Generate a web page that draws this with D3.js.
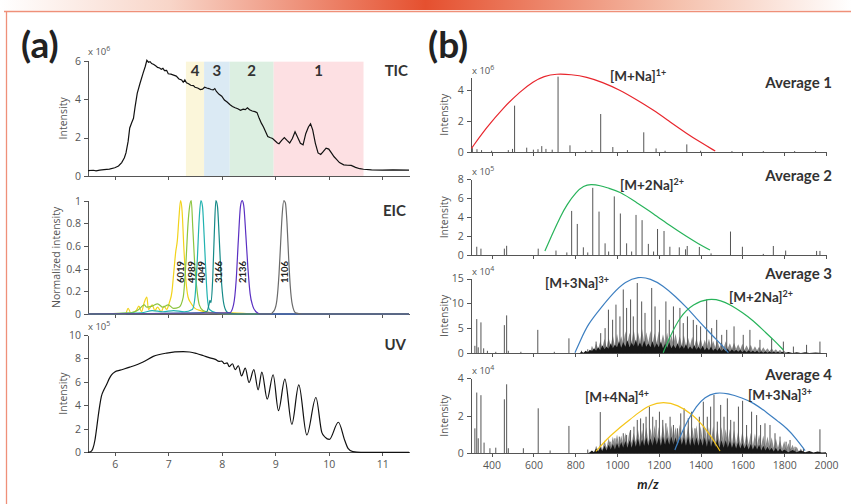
<!DOCTYPE html>
<html>
<head>
<meta charset="utf-8">
<script src="https://cdn.jsdelivr.net/npm/d3@7"></script>
<style>
  body { margin: 0; background: #fff; }
  svg { display: block; font-family: Lato, "Open Sans", sans-serif; }
  .axis path, .axis line { stroke: #555; shape-rendering: crispEdges; }
  .axis text { fill: #555; font-size: 10.5px; font-family: "Open Sans", sans-serif; }
  .ylab { fill: #555; font-size: 10.5px; font-family: "Open Sans", sans-serif; }
  .hdr { fill: #333; font-weight: 700; font-size: 15px; }
  .ion { fill: #333; font-weight: 700; font-size: 13.5px; }
</style>
</head>
<body>
<svg id="chart" width="851" height="504"></svg>
<script>
// ---- panel (a) data: retention time (min) vs intensity ----
var ticTrace = [[5.5,0.28],[5.6,0.3],[5.65,0.27],[5.72,0.31],[5.8,0.33],[5.9,0.36],[6.0,0.43],[6.07,0.52],[6.13,0.7],[6.18,0.95],[6.21,1.2],[6.25,1.8],[6.28,2.5],[6.32,2.8],[6.35,3.0],[6.38,3.6],[6.42,4.3],[6.47,4.8],[6.53,5.35],[6.57,5.7],[6.6,6.02],[6.63,5.92],[6.66,5.95],[6.69,5.85],[6.73,5.8],[6.77,5.72],[6.8,5.65],[6.84,5.62],[6.87,5.55],[6.9,5.6],[6.93,5.48],[6.97,5.5],[7.0,5.32],[7.05,5.3],[7.1,5.25],[7.15,5.2],[7.2,5.05],[7.25,5.0],[7.28,4.88],[7.31,5.0],[7.34,4.85],[7.38,4.8],[7.42,4.72],[7.47,4.7],[7.5,4.62],[7.55,4.58],[7.6,4.5],[7.64,4.52],[7.68,4.62],[7.72,4.58],[7.76,4.55],[7.8,4.5],[7.84,4.48],[7.87,4.55],[7.9,4.4],[7.95,4.25],[8.0,4.15],[8.05,3.95],[8.1,3.85],[8.15,3.72],[8.2,3.62],[8.25,3.55],[8.3,3.5],[8.35,3.42],[8.4,3.48],[8.44,3.45],[8.48,3.55],[8.52,3.45],[8.57,3.38],[8.62,3.35],[8.66,3.3],[8.7,3.0],[8.74,2.75],[8.78,2.55],[8.82,2.3],[8.86,2.05],[8.9,2.0],[8.95,1.95],[8.99,1.85],[9.04,1.72],[9.07,1.68],[9.12,1.85],[9.17,2.0],[9.22,1.85],[9.27,1.72],[9.32,1.95],[9.37,2.3],[9.42,2.0],[9.47,1.7],[9.52,1.62],[9.57,2.2],[9.62,2.55],[9.66,2.72],[9.7,2.4],[9.75,1.7],[9.8,1.2],[9.85,1.12],[9.9,1.28],[9.95,1.45],[10.0,1.4],[10.05,1.2],[10.1,1.0],[10.15,0.85],[10.2,0.7],[10.28,0.58],[10.35,0.56],[10.42,0.55],[10.5,0.45],[10.58,0.38],[10.65,0.35],[10.8,0.32],[11.0,0.31],[11.2,0.32],[11.5,0.31]];

var bandLabels = ["4", "3", "2", "1"];
var bandStart = [7.33, 7.67, 8.15, 8.97];
var bandEnd = [7.67, 8.15, 8.97, 10.65];

var eicLabels = ["6019", "4989", "4049", "3166", "2136", "1106"];
var eicPeakTime = [7.22, 7.44, 7.62, 7.93, 8.39, 9.18];
var eicTraces = [
  [[5.5,0],[6.2,0],[6.25,0.05],[6.3,0.01],[6.4,0.03],[6.45,0.07],[6.5,0.02],[6.55,0.1],[6.6,0.15],[6.63,0.04],[6.7,0.08],[6.75,0.03],[6.8,0.06],[6.87,0.02],[6.92,0.07],[6.97,0.04],[7.02,0.1],[7.07,0.2],[7.1,0.35],[7.14,0.55],[7.17,0.65],[7.2,0.85],[7.23,1.0],[7.26,0.9],[7.29,0.6],[7.33,0.3],[7.37,0.15],[7.42,0.1],[7.5,0.05],[7.6,0.03],[7.8,0.01],[8.2,0.01],[8.6,0],[11.5,0]],
  [[5.5,0],[6.3,0.01],[6.45,0.04],[6.55,0.08],[6.6,0.06],[6.7,0.07],[6.8,0.09],[6.9,0.06],[7.0,0.08],[7.1,0.05],[7.2,0.06],[7.28,0.15],[7.33,0.45],[7.37,0.8],[7.4,0.95],[7.43,1.0],[7.46,0.75],[7.5,0.4],[7.54,0.2],[7.58,0.08],[7.65,0.03],[7.8,0.01],[8.1,0],[11.5,0]],
  [[5.5,0],[6.5,0.01],[6.7,0.03],[6.9,0.02],[7.1,0.03],[7.3,0.02],[7.45,0.04],[7.5,0.15],[7.54,0.45],[7.58,0.85],[7.61,1.0],[7.64,0.95],[7.67,0.7],[7.7,0.4],[7.73,0.15],[7.77,0.04],[7.9,0.01],[8.2,0],[11.5,0]],
  [[5.5,0],[7.6,0.01],[7.72,0.02],[7.76,0.08],[7.78,0.12],[7.8,0.1],[7.83,0.3],[7.86,0.7],[7.89,1.0],[7.92,0.95],[7.95,0.7],[7.98,0.4],[8.02,0.15],[8.06,0.05],[8.12,0.01],[8.3,0],[11.5,0]],
  [[5.5,0],[8.15,0.01],[8.22,0.08],[8.27,0.3],[8.31,0.65],[8.35,0.95],[8.38,1.0],[8.41,0.96],[8.45,0.7],[8.49,0.4],[8.53,0.18],[8.58,0.07],[8.64,0.02],[8.72,0],[11.5,0]],
  [[5.5,0],[8.9,0],[8.98,0.03],[9.03,0.12],[9.07,0.35],[9.1,0.62],[9.13,0.88],[9.16,1.0],[9.19,0.98],[9.22,0.8],[9.25,0.5],[9.28,0.25],[9.32,0.08],[9.38,0.01],[9.5,0],[11.5,0]]
];

var uvTrace = [[5.5,0],[5.55,0.05],[5.59,0.3],[5.63,1.05],[5.66,2.0],[5.69,3.05],[5.72,4.0],[5.75,4.76],[5.8,5.35],[5.85,5.8],[5.9,6.3],[5.94,6.6],[6.0,6.85],[6.1,7.0],[6.28,7.26],[6.53,7.7],[6.72,8.18],[6.97,8.46],[7.28,8.58],[7.4,8.55],[7.53,8.42],[7.65,8.25],[7.78,8.05],[7.88,7.92],[7.95,7.75],[8.0,7.78],[8.05,7.55],[8.1,7.62],[8.14,7.3],[8.2,7.55],[8.25,7.05],[8.31,7.38],[8.37,6.52],[8.44,7.18],[8.51,5.95],[8.6,7.04],[8.68,5.33],[8.75,6.84],[8.85,4.53],[8.96,6.61],[9.06,3.56],[9.18,6.24],[9.31,2.39],[9.44,5.75],[9.59,1.48],[9.76,4.67],[9.87,1.7],[9.93,1.3],[10.01,1.1],[10.18,2.56],[10.3,1.0],[10.36,0.34],[10.45,0.06],[10.6,0],[11.5,0]];

// ---- panel (b) data: averaged mass spectra (m/z vs intensity) ----
var avg1Mz = [308,330,352,400,480,500,510,568,600,622,640,660,690,718,775,850,880,922,980,1050,1128,1187,1230,1334,1400,1550,1700,1850,1950];
var avg1Int = [0.25,0.18,0.12,0.08,0.12,0.2,2.99,0.28,0.15,0.18,0.38,0.2,0.15,4.86,0.43,0.08,0.12,2.45,0.32,0.12,1.27,0.23,0.08,0.49,0.08,0.06,0.06,0.06,0.06];
var avg1Env = [[304,0.24],[377,1.6],[456,2.85],[536,3.9],[600,4.55],[650,4.9],[711,5.05],[780,5.0],[855,4.85],[930,4.5],[1014,4.0],[1090,3.4],[1174,2.71],[1250,1.98],[1333,1.2],[1400,0.62],[1470,0.06]];

var avg2Mz = [329,349,461,472,623,708,760,783,810,839,860,884,914,943,960,987,1016,1046,1070,1091,1120,1150,1175,1194,1225,1253,1298,1328,1336,1394,1450,1543,1600,1700,1748,1807,1955,1971];
var avg2Int = [0.9,0.7,0.7,1.0,0.7,0.5,0.3,4.67,3.3,0.84,0.3,7.1,4.6,1.26,0.4,6.2,4.4,1.26,0.4,4.25,3.7,1.2,0.4,2.77,2.56,0.9,0.84,0.63,0.98,0.88,0.2,2.5,0.9,0.15,0.98,0.5,0.46,0.46];
var avg2Env = [[655,0.46],[696,2.5],[730,4.1],[759,5.3],[806,6.7],[840,7.3],[874,7.5],[920,7.35],[960,7.05],[1014,6.7],[1090,5.6],[1174,4.4],[1254,3.1],[1334,1.96],[1390,1.2],[1445,0.56]];

var avg3Mz = [320,329,336,349,362,380,420,461,472,480,540,621,700,770,830,860,879,900,922,943,959,979,995,1014,1030,1046,1065,1078,1097,1118,1134,1166,1182,1203,1234,1250,1270,1301,1317,1337,1365,1381,1400,1429,1453,1477,1501,1525,1560,1604,1636,1684,1740,1796,1844,1907,1971];
var avg3Int = [1.5,6.86,1.2,6.2,1.0,0.5,0.3,5.65,7.6,0.5,0.3,4.7,0.3,3.0,0.5,0.8,0.67,2.35,4.04,5.05,8.75,6.73,9.76,7.4,12.8,9.1,10.8,7.4,14.1,10.4,8.1,13.1,9.4,6.7,10.4,6.7,9.4,9.1,6.06,7.4,6.7,5.7,5.4,10.8,5.05,6.7,3.7,4.7,5.4,3.7,4.7,2.7,3.0,2.35,1.35,1.7,2.35];
var avg3Haze = [[870,0],[880,1.5],[890,0.6],[900,2.0],[910,0.9],[920,2.4],[930,1.1],[940,2.9],[950,1.2],[960,3.1],[970,1.5],[980,3.6],[990,1.4],[1000,3.9],[1010,1.8],[1020,3.4],[1030,1.9],[1040,4.4],[1050,2.0],[1060,4.1],[1070,2.2],[1080,4.7],[1090,2.0],[1100,4.3],[1110,2.3],[1120,4.8],[1130,2.1],[1140,4.2],[1150,2.2],[1160,4.5],[1170,2.0],[1180,4.0],[1190,2.1],[1200,4.4],[1210,1.9],[1220,3.8],[1230,2.0],[1240,4.1],[1250,1.8],[1260,3.6],[1270,1.9],[1280,3.9],[1290,1.7],[1300,3.4],[1310,1.6],[1320,3.6],[1330,1.5],[1340,3.1],[1350,1.6],[1360,3.3],[1370,1.4],[1380,2.9],[1390,1.4],[1400,3.1],[1410,1.3],[1420,2.7],[1430,1.3],[1440,2.9],[1450,1.2],[1460,2.5],[1470,1.2],[1480,2.6],[1490,1.1],[1500,2.3],[1510,1.0],[1520,2.4],[1530,1.0],[1540,2.0],[1550,0.9],[1560,2.1],[1570,0.9],[1580,1.8],[1590,0.8],[1600,1.9],[1610,0.7],[1620,1.6],[1630,0.7],[1640,1.7],[1650,0.6],[1660,1.4],[1670,0.6],[1680,1.3],[1690,0.5],[1700,1.2],[1710,0.5],[1720,1.0],[1730,0.4],[1740,1.0],[1750,0.4],[1760,0.8],[1770,0.3],[1780,0.7],[1790,0.2],[1800,0.5],[1810,0]];
var avg3Grass = [[820,0],[830,0.3],[840,0.1],[850,0.5],[860,0.2],[870,0.7],[880,0.4],[890,1.0],[900,0.5],[910,1.2],[920,0.6],[930,1.6],[940,0.8],[950,1.3],[960,0.9],[970,2.0],[980,1.0],[990,1.7],[1000,1.2],[1010,2.4],[1020,1.1],[1030,2.2],[1040,1.3],[1050,2.6],[1060,1.2],[1070,2.1],[1080,1.4],[1090,2.7],[1100,1.3],[1110,2.2],[1120,1.2],[1130,2.5],[1140,1.3],[1150,2.0],[1160,1.2],[1170,2.4],[1180,1.1],[1190,2.0],[1200,1.2],[1210,2.3],[1220,1.0],[1230,1.9],[1240,1.1],[1250,2.2],[1260,1.0],[1270,1.7],[1280,1.0],[1290,2.0],[1300,0.9],[1310,1.6],[1320,0.9],[1330,1.8],[1340,0.8],[1350,1.4],[1360,0.8],[1370,1.6],[1380,0.7],[1390,1.3],[1400,0.7],[1410,1.5],[1420,0.6],[1430,1.2],[1440,0.6],[1450,1.3],[1460,0.5],[1470,1.0],[1480,0.5],[1490,1.1],[1500,0.4],[1510,0.9],[1520,0.4],[1530,0.9],[1540,0.3],[1550,0.8],[1560,0.3],[1570,0.7],[1580,0.3],[1590,0.7],[1600,0.2],[1610,0.6],[1620,0.2],[1630,0.6],[1640,0.2],[1650,0.5],[1660,0.2],[1670,0.5],[1680,0.1],[1690,0.4],[1700,0.1],[1710,0.4],[1720,0.1],[1730,0.35],[1740,0.1],[1750,0.3],[1760,0.1],[1770,0.3],[1780,0.05],[1790,0.3],[1800,0.05],[1820,0.25],[1840,0.05],[1860,0.2],[1880,0.05],[1900,0.2],[1920,0.05],[1950,0.15],[1980,0.05],[2000,0]];
var avg3EnvBlue = [[799,0.13],[823,2.4],[860,5.8],[919,8.9],[982,12.1],[1040,14.4],[1102,15.4],[1160,15.0],[1220,13.6],[1280,11.4],[1333,9.2],[1380,7.0],[1420,5.2],[1460,3.4],[1500,1.7],[1533,0.13]];
var avg3EnvGreen = [[1221,0.13],[1250,3.0],[1301,7.4],[1365,9.9],[1437,11.0],[1500,10.6],[1541,9.75],[1600,8.2],[1653,6.5],[1700,4.6],[1749,2.7],[1796,0.67]];

var avg4Mz = [320,329,336,349,364,392,420,461,472,480,552,623,680,770,860,920,967,990,1011,1030,1046,1065,1081,1097,1113,1126,1139,1155,1171,1187,1203,1219,1234,1254,1270,1289,1305,1321,1341,1357,1373,1394,1413,1432,1448,1464,1480,1496,1512,1528,1544,1560,1581,1601,1620,1644,1668,1687,1708,1732,1756,1780,1809,1828,1852,1892,1971];
var avg4Int = [1.33,3.24,0.8,3.1,0.57,0.27,0.3,2.88,3.68,0.27,0.27,2.4,0.15,1.46,0.2,2.2,0.62,0.8,0.89,1.07,0.98,1.24,1.42,1.78,1.86,1.6,1.95,2.49,1.95,1.78,2.22,1.78,1.6,1.95,1.51,1.33,2.13,2.4,1.87,2.22,1.33,1.95,2.75,1.95,2.49,3.11,1.69,2.58,1.95,2.93,1.78,1.69,2.49,2.8,1.51,2.22,2.04,1.51,1.6,1.51,1.07,0.89,0.62,0.71,0.35,0.26,1.28];
var avg4Haze = [[890,0],[900,0.4],[910,0.15],[920,0.5],[930,0.2],[940,0.7],[950,0.3],[960,0.8],[970,0.35],[980,0.9],[990,0.4],[1000,1.0],[1010,0.45],[1020,0.95],[1030,0.5],[1040,1.1],[1050,0.5],[1060,1.2],[1070,0.55],[1080,1.1],[1090,0.6],[1100,1.3],[1110,0.6],[1120,1.25],[1130,0.65],[1140,1.4],[1150,0.6],[1160,1.35],[1170,0.7],[1180,1.5],[1190,0.65],[1200,1.4],[1210,0.7],[1220,1.55],[1230,0.7],[1240,1.45],[1250,0.7],[1260,1.5],[1270,0.75],[1280,1.4],[1290,0.7],[1300,1.55],[1310,0.7],[1320,1.45],[1330,0.7],[1340,1.5],[1350,0.7],[1360,1.4],[1370,0.7],[1380,1.5],[1390,0.65],[1400,1.45],[1410,0.7],[1420,1.5],[1430,0.65],[1440,1.4],[1450,0.6],[1460,1.45],[1470,0.6],[1480,1.35],[1490,0.6],[1500,1.4],[1510,0.55],[1520,1.3],[1530,0.55],[1540,1.3],[1550,0.5],[1560,1.25],[1570,0.5],[1580,1.2],[1590,0.5],[1600,1.2],[1610,0.45],[1620,1.1],[1630,0.45],[1640,1.1],[1650,0.4],[1660,1.05],[1670,0.4],[1680,1.0],[1690,0.4],[1700,0.95],[1710,0.35],[1720,0.9],[1730,0.35],[1740,0.85],[1750,0.3],[1760,0.8],[1770,0.3],[1780,0.7],[1790,0.25],[1800,0.65],[1810,0.2],[1820,0.55],[1830,0.2],[1840,0.45],[1850,0.15],[1860,0.35],[1870,0.1],[1880,0.25],[1890,0]];
var avg4Grass = [[860,0],[870,0.05],[880,0.15],[890,0.05],[900,0.25],[910,0.1],[920,0.3],[930,0.12],[940,0.4],[950,0.15],[960,0.45],[970,0.2],[980,0.5],[990,0.2],[1000,0.55],[1010,0.25],[1020,0.6],[1030,0.3],[1040,0.65],[1050,0.3],[1060,0.7],[1070,0.3],[1080,0.75],[1090,0.35],[1100,0.8],[1110,0.35],[1120,0.75],[1130,0.4],[1140,0.85],[1150,0.4],[1160,0.8],[1170,0.4],[1180,0.9],[1190,0.45],[1200,0.85],[1210,0.4],[1220,0.9],[1230,0.45],[1240,0.85],[1250,0.45],[1260,0.9],[1270,0.45],[1280,0.85],[1290,0.4],[1300,0.9],[1310,0.45],[1320,0.85],[1330,0.4],[1340,0.9],[1350,0.4],[1360,0.85],[1370,0.4],[1380,0.85],[1390,0.4],[1400,0.8],[1410,0.4],[1420,0.85],[1430,0.35],[1440,0.8],[1450,0.35],[1460,0.75],[1470,0.35],[1480,0.75],[1490,0.3],[1500,0.7],[1510,0.3],[1520,0.7],[1530,0.3],[1540,0.65],[1550,0.3],[1560,0.6],[1570,0.25],[1580,0.6],[1590,0.25],[1600,0.55],[1610,0.25],[1620,0.5],[1630,0.2],[1640,0.5],[1650,0.2],[1660,0.45],[1670,0.2],[1680,0.45],[1690,0.15],[1700,0.4],[1710,0.15],[1720,0.35],[1730,0.15],[1740,0.3],[1750,0.1],[1760,0.3],[1770,0.1],[1780,0.25],[1790,0.1],[1800,0.2],[1820,0.05],[1840,0.18],[1860,0.05],[1880,0.15],[1900,0.05],[1920,0.12],[1940,0.04],[1960,0.1],[1980,0.04],[2000,0.05]];
var avg4EnvYellow = [[899,0.1],[950,0.75],[1000,1.25],[1046,1.65],[1100,2.15],[1160,2.6],[1221,2.75],[1290,2.6],[1365,2.04],[1410,1.5],[1445,0.98],[1475,0.45],[1493,0.12]];
var avg4EnvBlue = [[1277,0.18],[1300,0.85],[1333,1.65],[1381,2.55],[1420,3.0],[1470,3.25],[1530,3.2],[1600,2.95],[1652,2.7],[1720,2.15],[1770,1.7],[1812,1.35],[1860,0.75],[1900,0.14]];

var timeTicks = [6, 7, 8, 9, 10, 11];
var mzTicks = [400, 600, 800, 1000, 1200, 1400, 1600, 1800, 2000];

// ---------------------------------------------------------------
var svg = d3.select("#chart");
var W = 851;

// top decoration bar and frame
var grad = svg.append("defs").append("linearGradient").attr("id", "topbar");
[[0, "#ffffff"], [0.2, "#f8d5c8"], [0.5, "#e5502f"], [0.8, "#f5c2ae"], [1, "#ffffff"]].forEach(function(s) {
  grad.append("stop").attr("offset", s[0]).attr("stop-color", s[1]);
});
svg.append("rect").attr("width", W).attr("height", 10).attr("fill", "url(#topbar)");
svg.append("path")
    .attr("d", "M4,11.5H851M6.5,11.5V504")
    .attr("fill", "none")
    .attr("stroke", "#ef9079")
    .attr("stroke-width", 1.3);

svg.append("text").attr("x", 21).attr("y", 58).text("(a)")
    .style("font-size", "37px").style("font-weight", 700).attr("fill", "#222");
svg.append("text").attr("x", 428).attr("y", 58).text("(b)")
    .style("font-size", "37px").style("font-weight", 700).attr("fill", "#222");

function drawAxes(x, y, xTicks, yTicks, xLabels) {
  var gx = svg.append("g").attr("class", "axis").attr("color", "#555")
      .attr("transform", "translate(0," + y.range()[0] + ")")
      .call(d3.axisBottom(x).tickValues(xTicks).tickSize(4).tickSizeOuter(0).tickPadding(4)
        .tickFormat(xLabels ? d3.format("d") : function() { return ""; }));
  var gy = svg.append("g").attr("class", "axis").attr("color", "#555")
      .attr("transform", "translate(" + x.range()[0] + ",0)")
      .call(d3.axisLeft(y).tickValues(yTicks).tickSize(4).tickSizeOuter(0).tickPadding(3)
        .tickFormat(d3.format("~g")));
  svg.selectAll(".axis text").style("fill", "#555");
}

function yTitle(xpos, y, label) {
  var mid = (y.range()[0] + y.range()[1]) / 2;
  svg.append("text").attr("class", "ylab")
      .attr("transform", "translate(" + xpos + "," + mid + ")rotate(-90)")
      .attr("text-anchor", "middle")
      .text(label);
}

function expLabel(xpos, ypos, exp) {
  var t = svg.append("text").attr("class", "ylab").attr("x", xpos).attr("y", ypos)
      .style("font-size", "9.5px").text("x 10");
  t.append("tspan").attr("dy", -4).style("font-size", "7px").text(exp);
}

function ionLabel(xpos, ypos, base, charge) {
  var t = svg.append("text").attr("class", "ion").attr("x", xpos).attr("y", ypos).text(base);
  t.append("tspan").attr("dy", -5).style("font-size", "9px").text(charge);
}

// ---------------- panel (a) ----------------
var xa = d3.scaleLinear().domain([5.5, 11.5]).range([88, 409]);
var yTic = d3.scaleLinear().domain([0, 6]).range([176, 60.7]);
var yEic = d3.scaleLinear().domain([0, 1]).range([314, 200.7]);
var yUv = d3.scaleLinear().domain([0, 10]).range([452.3, 335]);

var bandColors = ["#fbf6da", "#dbeaf4", "#dcefe1", "#fde0e3"];
svg.append("g").selectAll("rect")
    .data(bandLabels)
  .enter().append("rect")
    .attr("x", function(d, i) { return xa(bandStart[i]); })
    .attr("width", function(d, i) { return xa(bandEnd[i]) - xa(bandStart[i]); })
    .attr("y", yTic(5.95))
    .attr("height", yTic(0) - yTic(5.95))
    .attr("fill", function(d, i) { return bandColors[i]; });
svg.append("g").selectAll("text")
    .data(bandLabels)
  .enter().append("text")
    .attr("class", "hdr")
    .attr("x", function(d, i) { return xa((bandStart[i] + bandEnd[i]) / 2); })
    .attr("y", 76)
    .attr("text-anchor", "middle")
    .text(function(d) { return d; });

drawAxes(xa, yTic, timeTicks, [0, 2, 4, 6], false);
drawAxes(xa, yEic, timeTicks, [0, 0.2, 0.4, 0.6, 0.8, 1], false);
drawAxes(xa, yUv, timeTicks, [0, 2, 4, 6, 8, 10], true);

svg.append("path").datum(ticTrace)
    .attr("fill", "none").attr("stroke", "#111").attr("stroke-width", 1.2)
    .attr("d", d3.line().x(function(d) { return xa(d[0]); }).y(function(d) { return yTic(d[1]); }));

var eicColors = ["#f2d31b", "#8cc43f", "#21b2b0", "#158a88", "#5a2fc2", "#6b6b6b"];
var eicLine = d3.line().curve(d3.curveMonotoneX)
    .x(function(d) { return xa(d[0]); }).y(function(d) { return yEic(d[1]); });
eicTraces.forEach(function(tr, i) {
  svg.append("path").datum(tr)
      .attr("fill", "none").attr("stroke", eicColors[i]).attr("stroke-width", 1.2)
      .attr("d", eicLine);
});
svg.append("g").selectAll("text")
    .data(eicLabels)
  .enter().append("text")
    .attr("transform", function(d, i) { return "translate(" + (xa(eicPeakTime[i]) + 3.5) + "," + yEic(0.37) + ")rotate(-90)"; })
    .attr("text-anchor", "middle")
    .style("font-size", "9.5px").style("font-weight", 700).attr("fill", "#222")
    .text(function(d) { return d; });

svg.append("path").datum(uvTrace)
    .attr("fill", "none").attr("stroke", "#111").attr("stroke-width", 1.2)
    .attr("d", d3.line().curve(d3.curveMonotoneX)
      .x(function(d) { return xa(d[0]); }).y(function(d) { return yUv(d[1]); }));

yTitle(67, yTic, "Intensity");
yTitle(60, yEic, "Normalized intensity");
yTitle(67, yUv, "Intensity");
expLabel(88, 55, "6");
expLabel(88, 330, "5");

svg.append("text").attr("class", "hdr").attr("x", 408).attr("y", 76).attr("text-anchor", "end").text("TIC");
svg.append("text").attr("class", "hdr").attr("x", 406).attr("y", 216).attr("text-anchor", "end").text("EIC");
svg.append("text").attr("class", "hdr").attr("x", 406).attr("y", 350).attr("text-anchor", "end").text("UV");

// ---------------- panel (b) ----------------
var xb = d3.scaleLinear().domain([300, 2000]).range([470.7, 826]);
var panels = [
  { mz: avg1Mz, val: avg1Int, y: d3.scaleLinear().domain([0, 4.8]).range([152, 77.6]), ticks: [0, 2, 4], exp: "6" },
  { mz: avg2Mz, val: avg2Int, y: d3.scaleLinear().domain([0, 8]).range([255.3, 179.3]), ticks: [0, 2, 4, 6, 8], exp: "5" },
  { mz: avg3Mz, val: avg3Int, y: d3.scaleLinear().domain([0, 15]).range([353.3, 278.5]), ticks: [0, 5, 10, 15], exp: "4", haze: avg3Haze, grass: avg3Grass },
  { mz: avg4Mz, val: avg4Int, y: d3.scaleLinear().domain([0, 4]).range([453.3, 378.3]), ticks: [0, 2, 4], exp: "4", haze: avg4Haze, grass: avg4Grass }
];

panels.forEach(function(p, k) {
  var y = p.y;
  drawAxes(xb, y, mzTicks, p.ticks, k === 3);
  var area = d3.area().x(function(d) { return xb(d[0]); }).y0(y(0)).y1(function(d) { return y(d[1]); });
  if (p.haze) {
    svg.append("path").datum(p.haze).attr("fill", "#8c8c8c").attr("d", area);
  }
  svg.append("g").selectAll("line")
      .data(p.mz)
    .enter().append("line")
      .attr("x1", function(d) { return xb(d); })
      .attr("x2", function(d) { return xb(d); })
      .attr("y1", y(0))
      .attr("y2", function(d, i) { return y(p.val[i]); })
      .attr("stroke", "#555")
      .attr("stroke-width", 1);
  if (p.grass) {
    svg.append("path").datum(p.grass).attr("fill", "#161616").attr("d", area);
  }
  yTitle(448, y, "Intensity");
  expLabel(472, y.range()[1] - 4, p.exp);
});

var envLine = function(y) {
  return d3.line().curve(d3.curveBasis)
      .x(function(d) { return xb(d[0]); }).y(function(d) { return y(d[1]); });
};
svg.append("path").datum(avg1Env).attr("fill", "none").attr("stroke", "#e8262d").attr("stroke-width", 1.2).attr("d", envLine(panels[0].y));
svg.append("path").datum(avg2Env).attr("fill", "none").attr("stroke", "#27b35a").attr("stroke-width", 1.2).attr("d", envLine(panels[1].y));
svg.append("path").datum(avg3EnvBlue).attr("fill", "none").attr("stroke", "#3d7fc1").attr("stroke-width", 1.2).attr("d", envLine(panels[2].y));
svg.append("path").datum(avg3EnvGreen).attr("fill", "none").attr("stroke", "#27b35a").attr("stroke-width", 1.2).attr("d", envLine(panels[2].y));
svg.append("path").datum(avg4EnvYellow).attr("fill", "none").attr("stroke", "#f5c518").attr("stroke-width", 1.2).attr("d", envLine(panels[3].y));
svg.append("path").datum(avg4EnvBlue).attr("fill", "none").attr("stroke", "#3d7fc1").attr("stroke-width", 1.2).attr("d", envLine(panels[3].y));

ionLabel(610, 81, "[M+Na]", "1+");
ionLabel(620, 190, "[M+2Na]", "2+");
ionLabel(545, 288, "[M+3Na]", "3+");
ionLabel(729, 302, "[M+2Na]", "2+");
ionLabel(585, 402, "[M+4Na]", "4+");
ionLabel(748, 400, "[M+3Na]", "3+");

["Average 1", "Average 2", "Average 3", "Average 4"].forEach(function(t, i) {
  svg.append("text").attr("class", "hdr").attr("x", 832).attr("y", [88, 181, 279, 380][i])
      .attr("text-anchor", "end").text(t);
});

svg.append("text").attr("x", 648).attr("y", 489).attr("text-anchor", "middle")
    .style("font-size", "13px").style("font-weight", 700).style("font-style", "italic").attr("fill", "#222")
    .text("m/z");
</script>
</body>
</html>
